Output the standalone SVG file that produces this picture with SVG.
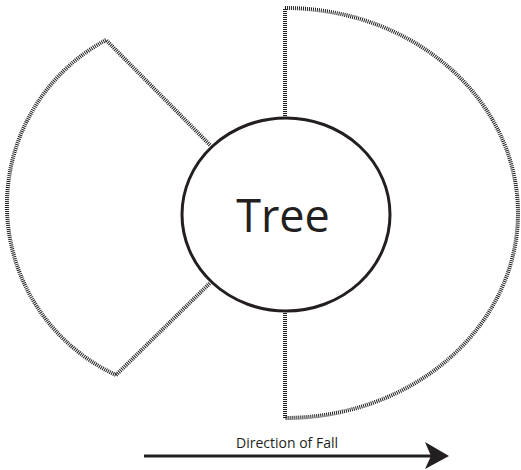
<svg xmlns="http://www.w3.org/2000/svg" width="521" height="470" viewBox="0 0 521 470">
  <style>
    .zone { fill: none; stroke: #231f20; stroke-width: 4; stroke-dasharray: 1 1; }
    .tree { fill: #ffffff; stroke: #231f20; stroke-width: 3; }
    .lbl { font-family: "Open Sans", "Liberation Sans", sans-serif; fill: #231f20; }
  </style>
  <rect width="521" height="470" fill="#ffffff"/>
  <g id="connectors">
    <g id="left-zone">
      <path class="zone" d="M210,145 L106,40"/>
      <path class="zone" d="M106,40 A187,187 0 0 0 116,375"/>
      <path class="zone" d="M116,375 L210,283"/>
    </g>
    <g id="right-zone">
      <path class="zone" d="M285,116 L285,8"/>
      <path class="zone" d="M285,8 A233,205 0 0 1 285,418"/>
      <path class="zone" d="M285,418 L285,311"/>
    </g>
    <g id="direction-arrow">
      <line x1="144" y1="456" x2="432" y2="456" stroke="#231f20" stroke-width="3"/>
      <polygon points="425,442 449,456 425,469 431,456" fill="#231f20"/>
    </g>
  </g>
  <g id="tree">
    <ellipse class="tree" cx="286" cy="214.5" rx="104" ry="96.5"/>
    <text class="lbl" x="283" y="232" font-size="45" text-anchor="middle">Tree</text>
  </g>
  <g id="direction-label">
    <text class="lbl" x="287" y="448" font-size="14" text-anchor="middle">Direction of Fall</text>
  </g>
</svg>
